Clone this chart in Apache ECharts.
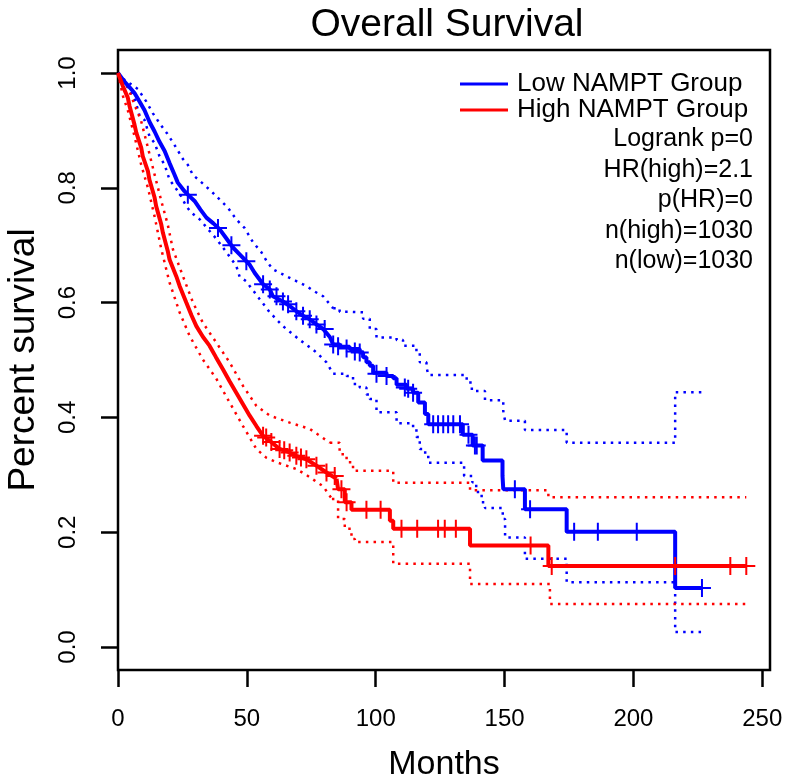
<!DOCTYPE html>
<html>
<head>
<meta charset="UTF-8">
<title>Overall Survival</title>
<script src="https://cdn.jsdelivr.net/npm/echarts@6/dist/echarts.min.js"></script>
<style>
  body { margin: 0; background: #fff; }
  #chart { width: 791px; height: 783px; }
</style>
</head>
<body>
<div id="chart"></div>
<script>
// tick labels
var xTicks = [0, 50, 100, 150, 200, 250];
var yTicks = [0, 0.2, 0.4, 0.6, 0.8, 1.0];
var statLines = ['Logrank p=0', 'HR(high)=2.1', 'p(HR)=0', 'n(high)=1030', 'n(low)=1030'];

// Low NAMPT group (blue): [months, survival]
var lowSurv = [
  [0,1.0],[2.5,0.985],[4.5,0.975],[6.4,0.965],[8.4,0.950],[10.3,0.935],[12.2,0.915],
  [14.2,0.898],[16.1,0.880],[18.1,0.864],[20,0.843],[21.9,0.823],[23.2,0.809],[25.8,0.794],
  [27.1,0.788],[29.7,0.777],[32,0.762],[34.3,0.748],[37,0.738],[39.4,0.728],[42,0.712],
  [44.6,0.696],[47.2,0.684],[49.8,0.672],[51.1,0.666],[53,0.652],[56.3,0.632],[58.9,0.623],
  [60.1,0.611],[64,0.602],[66.6,0.594],[69.2,0.585],[71.8,0.577],[74.4,0.571],[77,0.562],
  [79.6,0.554],[82.2,0.540],[83.5,0.527],[86.1,0.523],[89.9,0.519],[93.8,0.513],[95.1,0.505],
  [96.4,0.496],[97.7,0.490],[99,0.478],[104.2,0.472],[106.8,0.468],[108.1,0.457],[112,0.450],
  [114.5,0.443],[116.5,0.426],[119.1,0.406],[120.4,0.388],[133.8,0.370],[137.6,0.351],
  [141.5,0.325],[149.2,0.298],[149.5,0.275],[157.9,0.240],[174.1,0.201],[216.2,0.103],[226.6,0.103]
];
var lowUpper = [
  [0,1.0],[2,0.99],[4.5,0.982],[7.7,0.972],[11,0.950],[13.5,0.930],[16.5,0.910],[19,0.895],
  [21.6,0.877],[25.2,0.850],[27.1,0.840],[29.1,0.822],[31,0.815],[33.5,0.805],[36.2,0.794],
  [40.7,0.774],[42.7,0.765],[45.9,0.745],[49.1,0.730],[52.4,0.705],[55.6,0.688],[58,0.670],
  [60.1,0.658],[65.3,0.646],[68,0.640],[73.1,0.629],[76,0.620],[79.6,0.611],[83.5,0.590],
  [86,0.584],[89.9,0.583],[95.1,0.572],[97.7,0.554],[100.3,0.539],[108.1,0.535],[110.6,0.525],
  [115.8,0.512],[117.1,0.496],[119.7,0.488],[120.4,0.474],[135.3,0.461],[137.3,0.446],
  [142.4,0.430],[149.5,0.411],[150.2,0.394],[157.9,0.378],[174.1,0.356],[216.2,0.444],[226.6,0.444]
];
var lowLower = [
  [0,1.0],[2,0.985],[4.5,0.971],[6.4,0.957],[8.4,0.925],[10.3,0.918],[12.2,0.890],[14.2,0.878],
  [16.1,0.855],[18.1,0.840],[20,0.814],[21.3,0.806],[23.9,0.790],[26.5,0.768],[28.4,0.757],
  [31.7,0.745],[35.5,0.725],[38.2,0.711],[42,0.688],[45.9,0.664],[47.2,0.645],[49.8,0.637],
  [51.1,0.629],[55,0.606],[58.9,0.583],[64,0.559],[70.5,0.535],[75.7,0.518],[77,0.513],
  [80.9,0.496],[83.5,0.476],[88.7,0.472],[91.2,0.458],[93.8,0.452],[96.4,0.440],[97.7,0.432],
  [100.3,0.409],[108.1,0.390],[113.3,0.385],[115.8,0.366],[117.1,0.345],[118.4,0.339],
  [120.4,0.321],[134.3,0.298],[137.5,0.287],[139,0.270],[141.1,0.252],[142.4,0.242],
  [149.3,0.223],[150.2,0.191],[157.9,0.154],[174.1,0.113],[216.2,0.026],[226.6,0.026]
];
var lowCensor = [
  [27.1,0.788],[38.8,0.730],[44,0.700],[49.8,0.672],[56.3,0.632],[58.9,0.623],[61.5,0.611],
  [64,0.602],[66,0.597],[69.2,0.585],[71.8,0.577],[74.4,0.571],[77,0.562],[80.2,0.554],
  [83.5,0.527],[85.4,0.524],[88.7,0.520],[91.9,0.515],[93.8,0.513],[100.3,0.476],[104.2,0.472],
  [111.3,0.452],[112.6,0.450],[114.5,0.443],[122.3,0.388],[124.2,0.388],[126.2,0.388],
  [128.1,0.388],[130.1,0.388],[132.7,0.388],[136,0.370],[138.5,0.351],[139.2,0.351],
  [154,0.275],[159.9,0.240],[177,0.201],[186.2,0.201],[201.3,0.201],[226.6,0.103]
];

// High NAMPT group (red)
var highSurv = [
  [0,1.0],[1.9,0.977],[3.8,0.957],[4.5,0.942],[6.4,0.910],[7.1,0.896],[9,0.870],[9.6,0.855],
  [11.6,0.829],[12.2,0.814],[14.2,0.783],[14.8,0.768],[16.8,0.736],[17.4,0.722],[19.3,0.690],
  [20,0.675],[22.6,0.646],[23.9,0.629],[26.5,0.600],[28.5,0.578],[30.4,0.559],[33,0.540],
  [35.5,0.525],[38,0.505],[40.7,0.484],[43.3,0.463],[45.9,0.443],[48.5,0.423],[51.1,0.403],
  [53.7,0.385],[56.3,0.368],[59.5,0.357],[62.7,0.345],[66.6,0.339],[69.2,0.333],[73.1,0.327],
  [77,0.316],[80.9,0.304],[84.8,0.293],[85.4,0.275],[88,0.252],[90.6,0.239],[105.5,0.220],
  [106.8,0.206],[136.6,0.177],[167,0.141],[243.8,0.141]
];
var highUpper = [
  [0,1.0],[1.9,0.99],[3.8,0.975],[6.4,0.945],[9,0.916],[11.6,0.870],[14.2,0.823],[16.8,0.777],
  [19.3,0.736],[21.3,0.693],[25.2,0.646],[29.1,0.600],[32.9,0.565],[38.2,0.530],[43.3,0.496],
  [48.5,0.455],[53.7,0.420],[58.9,0.403],[66.6,0.391],[74.4,0.380],[82.2,0.356],[86,0.336],
  [88.7,0.322],[91.2,0.307],[106.8,0.286],[136.6,0.273],[167,0.261],[243.8,0.261]
];
var highLower = [
  [0,1.0],[1.9,0.96],[3.8,0.935],[6.4,0.890],[9,0.840],[11.6,0.800],[14.2,0.750],[16.8,0.693],
  [20,0.635],[23.9,0.583],[27.8,0.542],[32.9,0.501],[38.2,0.467],[43.3,0.426],[48.5,0.385],
  [53.7,0.345],[57.5,0.330],[61.5,0.322],[69.2,0.310],[73,0.300],[79.6,0.280],[83,0.258],
  [85.4,0.223],[88,0.206],[90.6,0.188],[91.9,0.183],[106.8,0.145],[136.6,0.110],[167.6,0.075],
  [243.8,0.075]
];
var highCensor = [
  [56.3,0.368],[57.5,0.365],[59.5,0.357],[62.7,0.345],[64.5,0.343],[66.6,0.339],[69.2,0.333],
  [71,0.330],[73.1,0.327],[77,0.316],[80.9,0.304],[84.1,0.298],[86.7,0.275],[88.7,0.252],
  [96.4,0.239],[101.9,0.239],[110,0.206],[116.1,0.206],[124.2,0.206],[126.8,0.206],[131.1,0.206],
  [160.1,0.177],[168.3,0.141],[216.2,0.141],[237.6,0.141],[243.8,0.141]
];

var BLUE = '#0000ff', RED = '#ff0000';
var FONT = 'Liberation Sans, Arial, sans-serif';
var plusPath = 'path://M5,0L5,10M0,5L10,5';

// dense early part of each curve is drawn as a polyline, sparse tail as steps
function curve(name, data, splitT, color, dotted) {
  var head = data.filter(function (p) { return p[0] <= splitT; });
  var tail = data.filter(function (p) { return p[0] >= splitT; });
  var ls = dotted
    ? { color: color, width: 2.5, type: [2.5, 5.2] }
    : { color: color, width: 4 };
  var base = { name: name, type: 'line', symbol: 'none', lineStyle: ls,
    itemStyle: { color: color }, z: dotted ? 3 : 4, animation: false };
  return [
    Object.assign({}, base, { data: head }),
    Object.assign({}, base, { data: tail, step: 'end' })
  ];
}
function censor(name, data, color) {
  return {
    name: name, type: 'scatter', data: data, symbol: plusPath, symbolSize: 18,
    itemStyle: { color: 'rgba(0,0,0,0)', borderColor: color, borderWidth: 2, opacity: 1 },
    z: 5, animation: false
  };
}

var series = [].concat(
  curve('lowUpper', lowUpper, 83.5, BLUE, true),
  curve('lowLower', lowLower, 83.5, BLUE, true),
  curve('highUpper', highUpper, 82.2, RED, true),
  curve('highLower', highLower, 83, RED, true),
  curve('Low NAMPT Group', lowSurv, 83.5, BLUE, false),
  curve('High NAMPT Group', highSurv, 84.8, RED, false),
  [censor('lowCensor', lowCensor, BLUE), censor('highCensor', highCensor, RED)]
);

var chart = echarts.init(document.getElementById('chart'));
chart.setOption({
  backgroundColor: '#fff',
  animation: false,
  title: {
    text: 'Overall Survival', left: 442, top: 1, textAlign: 'center',
    textStyle: { fontFamily: FONT, fontSize: 39, fontWeight: 'normal', color: '#000' }
  },
  legend: {
    data: ['Low NAMPT Group', 'High NAMPT Group'],
    orient: 'vertical', left: 455, top: 66, itemWidth: 48, itemHeight: 3, itemGap: 0,
    icon: 'rect', selectedMode: false,
    textStyle: { fontFamily: FONT, fontSize: 26, color: '#000', lineHeight: 25, padding: [0, 0, 0, 4] }
  },
  graphic: [{
    type: 'text', right: 38, top: 124,
    style: {
      text: statLines.join('\n'), textAlign: 'right', fill: '#000',
      font: '25px ' + FONT, lineHeight: 30.5
    }
  }],
  grid: {
    left: 118, right: 21, top: 50, bottom: 113, show: true, outerBoundsMode: 'none',
    borderColor: '#000', borderWidth: 2.5, backgroundColor: 'transparent'
  },
  xAxis: {
    type: 'value', min: 0, max: 253,
    name: 'Months', nameLocation: 'middle', nameGap: 78,
    nameTextStyle: { fontFamily: FONT, fontSize: 34, color: '#000' },
    axisLine: { show: false, onZero: false },
    splitLine: { show: false },
    axisTick: { show: true, length: 17, customValues: xTicks, lineStyle: { color: '#000', width: 2.5 } },
    axisLabel: { customValues: xTicks, margin: 37, fontFamily: FONT, fontSize: 24, color: '#000' }
  },
  yAxis: {
    type: 'value', min: -0.04, max: 1.04,
    name: 'Percent survival', nameLocation: 'middle', nameGap: 76,
    nameTextStyle: { fontFamily: FONT, fontSize: 37, color: '#000' },
    axisLine: { show: false, onZero: false },
    splitLine: { show: false },
    axisTick: { show: true, length: 17, customValues: yTicks, lineStyle: { color: '#000', width: 2.5 } },
    axisLabel: {
      customValues: yTicks, rotate: 90, margin: 38, fontFamily: FONT, fontSize: 24, color: '#000',
      formatter: function (v) { return v.toFixed(1); }
    }
  },
  series: series
});
</script>
</body>
</html>
